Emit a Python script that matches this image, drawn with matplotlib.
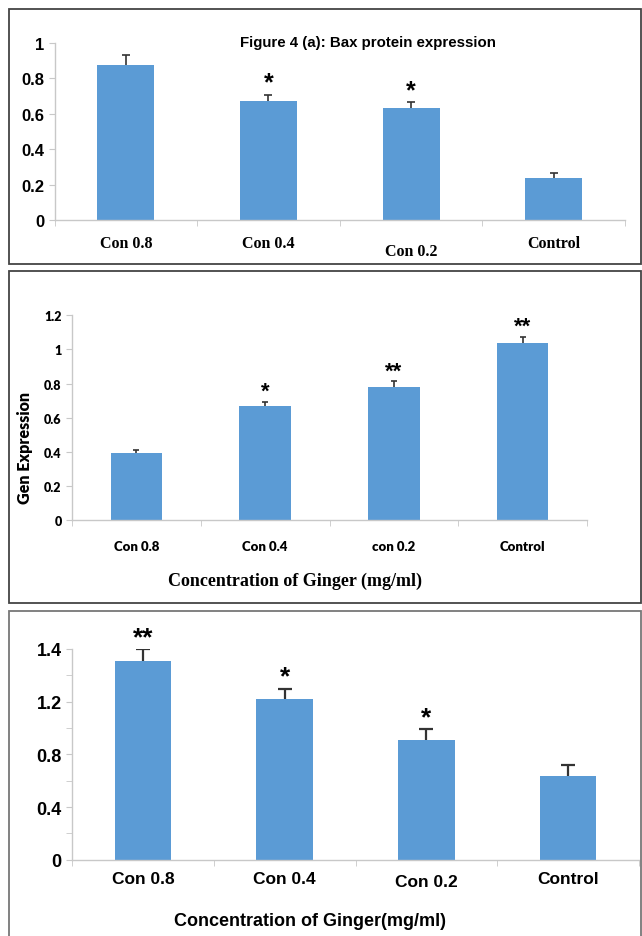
import matplotlib.pyplot as plt
from matplotlib.patches import Rectangle
from matplotlib.ticker import FixedLocator, MultipleLocator

W, H = 642, 937

# panel (a): Bax protein expression
labels_a = ['Con 0.8', 'Con 0.4', 'Con 0.2', 'Control']
values_a = [0.877, 0.67, 0.63, 0.24]
errors_a = [0.057, 0.038, 0.036, 0.025]
stars_a = ['', '*', '*', '']

# panel (b): gene expression
labels_b = ['Con 0.8', 'Con 0.4', 'con 0.2', 'Control']
values_b = [0.396, 0.667, 0.78, 1.036]
errors_b = [0.015, 0.026, 0.034, 0.037]
stars_b = ['', '*', '**', '**']

# panel (c)
labels_c = ['Con 0.8', 'Con 0.4', 'Con 0.2', 'Control']
values_c = [1.51, 1.22, 0.91, 0.638]
errors_c = [0.09, 0.08, 0.08, 0.08]
stars_c = ['**', '*', '*', '']
yticks_c = [0, 0.4, 0.8, 1.2, 1.6]
yticklabels_c = ['0', '0.4', '0.8', '1.2', '1.4']

BLUE = '#5b9bd5'
GRID = '#c8c8c8'


def px_axes(fig, x0, y0, x1, y1):
    """Add axes from pixel box (top-left origin)."""
    return fig.add_axes([x0 / W, 1 - y1 / H, (x1 - x0) / W, (y1 - y0) / H])


def frame(fig, x0, y0, x1, y1, color='#444444'):
    fig.patches.append(Rectangle((x0 / W, 1 - y1 / H), (x1 - x0) / W, (y1 - y0) / H,
                                 transform=fig.transFigure, fill=False,
                                 edgecolor=color, linewidth=1.3))


def bars(ax, values, errors, stars, star_size, star_pad, cap=3, lw=1.2):
    x = range(len(values))
    ax.bar(x, values, width=0.4, color=BLUE, zorder=2)
    eb = ax.errorbar(x, values, yerr=[[0] * len(errors), errors], fmt='none',
                     ecolor='#333333', elinewidth=lw, capsize=cap, capthick=lw, zorder=3)
    # only the upper cap, like the Excel "plus" error bars
    eb[1][0].set_visible(False)
    for i, s in enumerate(stars):
        if s:
            ax.text(i, values[i] + errors[i] + star_pad, s, ha='center', va='bottom',
                    fontsize=star_size, fontweight='bold', family='Liberation Sans')


def style_axes(ax, n):
    ax.set_xlim(-0.5, n - 0.5)
    for side in ['top', 'right']:
        ax.spines[side].set_visible(False)
    for side in ['left', 'bottom']:
        ax.spines[side].set_color(GRID)
        ax.spines[side].set_linewidth(1.0)
    ax.set_xticks(range(n))
    ax.xaxis.set_minor_locator(FixedLocator([i - 0.5 for i in range(n + 1)]))
    ax.tick_params(axis='x', which='major', length=0)
    ax.tick_params(axis='x', which='minor', length=4, color=GRID)
    ax.tick_params(axis='y', which='both', length=4, color=GRID)
    ax.set_facecolor('none')


fig = plt.figure(figsize=(W / 100, H / 100), dpi=100)

frame(fig, 9, 10, 641, 265)
frame(fig, 9, 272, 641, 604)
frame(fig, 9, 612, 641, 940, color='#777777')

# ---- panel (a)
ax1 = px_axes(fig, 54.5, 44, 625, 221)
bars(ax1, values_a, errors_a, stars_a, 18, 0.0)
style_axes(ax1, 4)
ax1.set_ylim(0, 1)
ax1.set_yticks([0, 0.2, 0.4, 0.6, 0.8, 1])
ax1.set_yticklabels(['0', '0.2', '0.4', '0.6', '0.8', '1'], family='Liberation Sans',
                    fontweight='bold', fontsize=12)
ax1.set_xticklabels(labels_a, family='Liberation Serif', fontweight='bold', fontsize=11.5)
ax1.tick_params(axis='x', pad=11)
for i, t in enumerate(ax1.get_xticklabels()):
    if i == 2:
        t.set_y(-0.045)
fig.text(368 / W, 1 - 43 / H, 'Figure 4 (a): Bax protein expression', ha='center', va='center',
         family='Liberation Sans', fontweight='bold', fontsize=10.8)

# ---- panel (b)
ax2 = px_axes(fig, 72, 316.3, 587, 521.3)
bars(ax2, values_b, errors_b, stars_b, 16, 0.0, cap=2)
style_axes(ax2, 4)
ax2.set_ylim(0, 1.2)
ax2.set_yticks([0, 0.2, 0.4, 0.6, 0.8, 1, 1.2])
ax2.set_yticklabels(['0', '0.2', '0.4', '0.6', '0.8', '1', '1.2'], family='Lato',
                    fontweight='heavy', fontsize=9)
ax2.set_xticklabels(labels_b, family='Lato', fontweight='heavy', fontsize=9.5)
ax2.tick_params(axis='x', pad=14)
ax2.set_ylabel('Gen Expression', family='Lato', fontweight='heavy', fontsize=11.5)
ax2.yaxis.set_label_coords(-0.075, 0.357)
fig.text(295 / W, 1 - 581 / H, 'Concentration of Ginger (mg/ml)', ha='center', va='center',
         family='Liberation Serif', fontweight='bold', fontsize=13)

# ---- panel (c)
ax3 = px_axes(fig, 72, 650, 639, 860.7)
bars(ax3, values_c, errors_c, stars_c, 19, 0.0, cap=5, lw=1.6)
style_axes(ax3, 4)
ax3.set_ylim(0, 1.6)
ax3.set_yticks(yticks_c)
ax3.set_yticklabels(yticklabels_c, family='Liberation Sans', fontweight='bold', fontsize=13)
ax3.yaxis.set_minor_locator(MultipleLocator(0.2))
ax3.set_xticklabels(labels_c, family='Liberation Sans', fontweight='bold', fontsize=12.5)
ax3.tick_params(axis='x', pad=8)
for i, t in enumerate(ax3.get_xticklabels()):
    if i == 2:
        t.set_y(-0.015)
fig.text(310 / W, 1 - 922 / H, 'Concentration of Ginger(mg/ml)', ha='center', va='center',
         family='Liberation Sans', fontweight='bold', fontsize=13)

fig.savefig('out.png', dpi=100)
